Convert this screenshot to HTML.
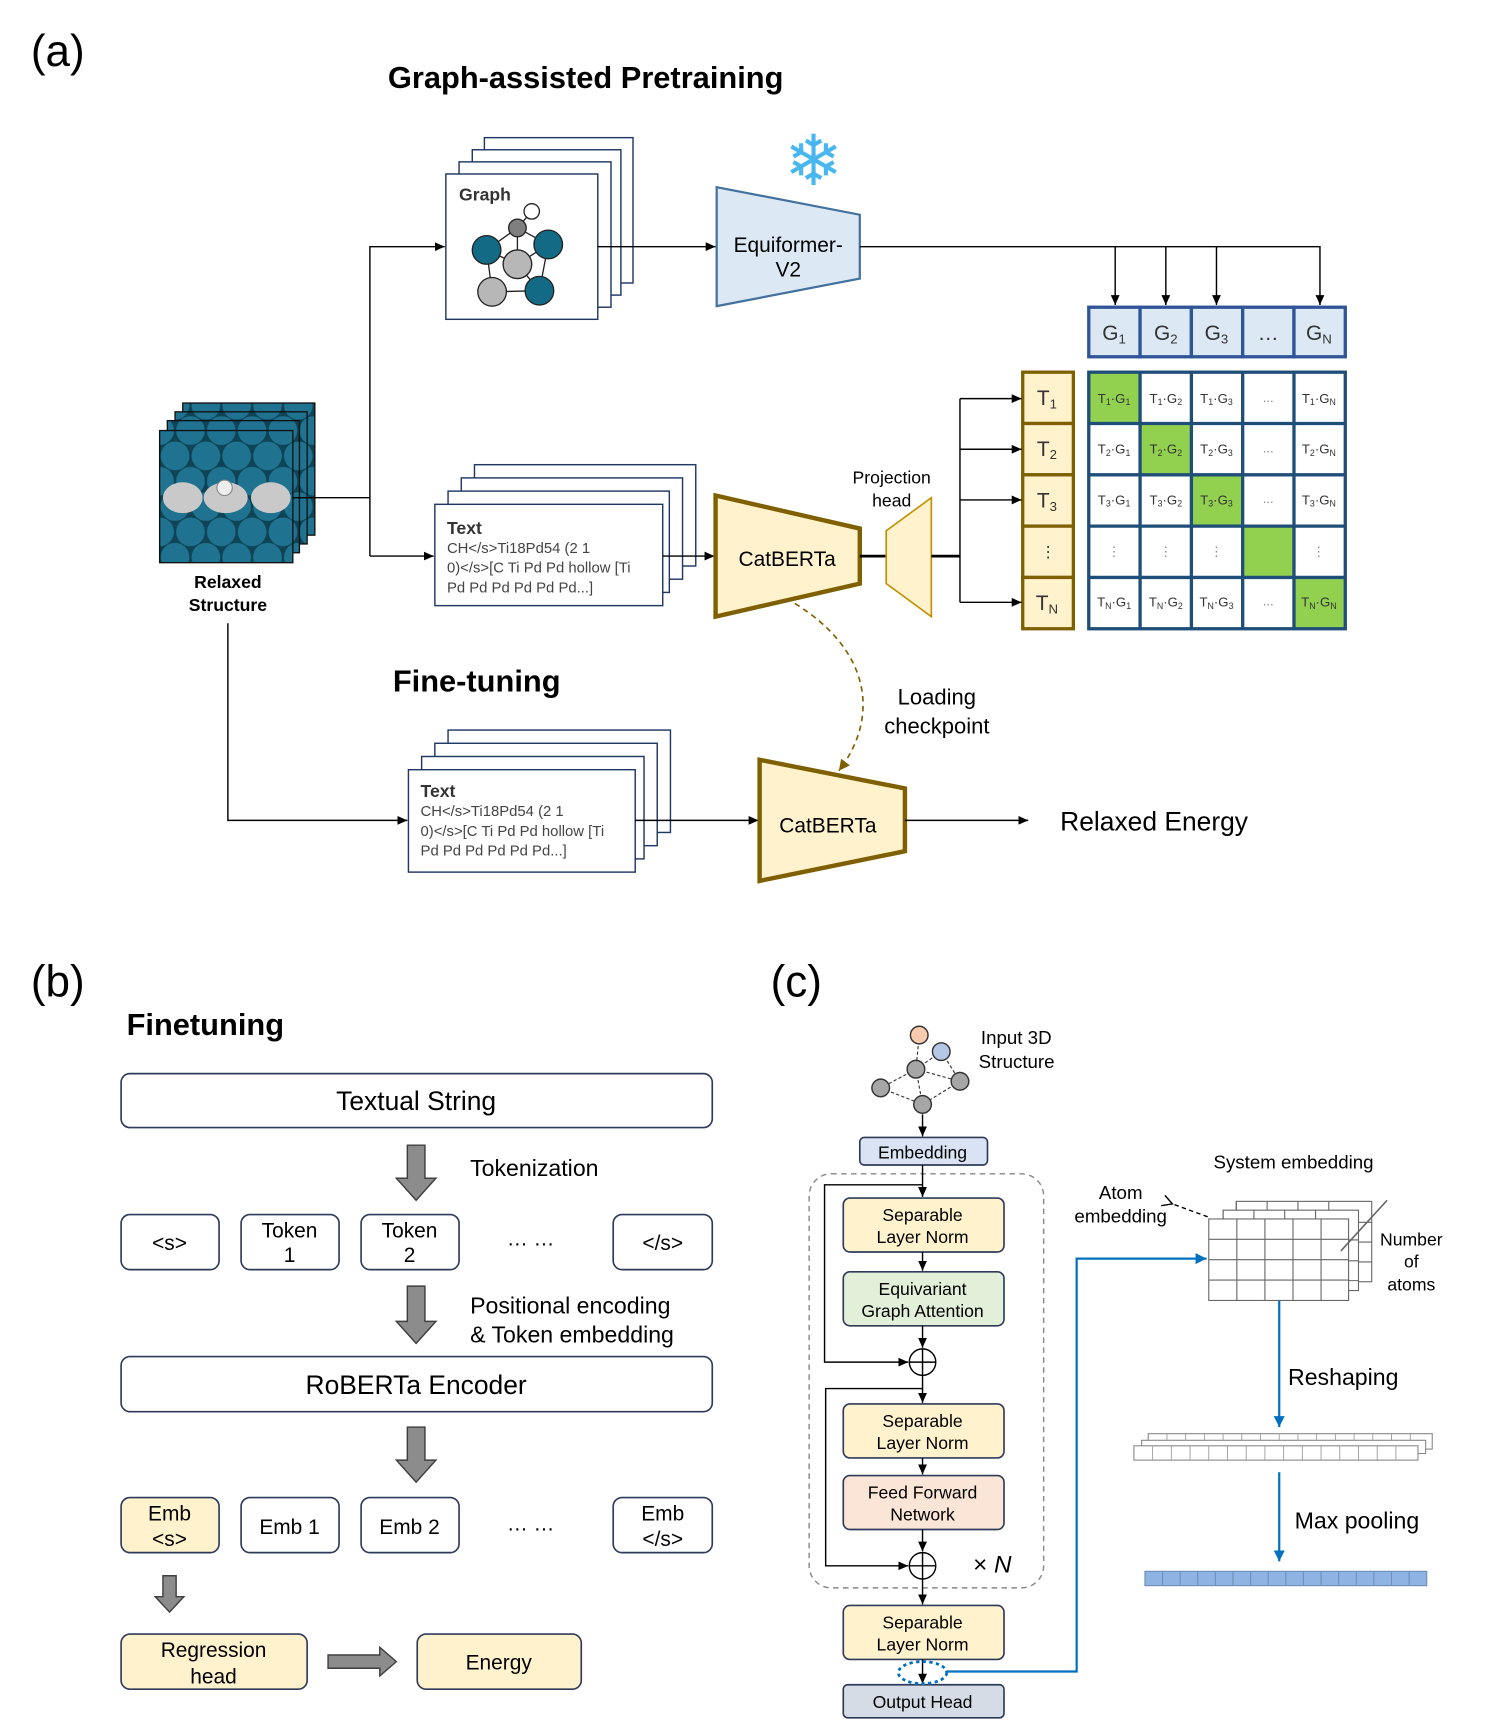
<!DOCTYPE html>
<html><head><meta charset="utf-8"><style>
html,body{margin:0;padding:0;background:#fff}
svg{display:block}
text{font-family:"Liberation Sans",Arial,sans-serif}
</style></head><body>
<svg width="1495" height="1731" viewBox="0 0 1358 1572" preserveAspectRatio="none" xmlns="http://www.w3.org/2000/svg">
<defs>
<marker id="ah" markerWidth="10" markerHeight="10" refX="9" refY="5" orient="auto" markerUnits="userSpaceOnUse"><path d="M0,1 L9,5 L0,9 z" fill="#000"/></marker>
<marker id="ahb" markerWidth="12" markerHeight="12" refX="10" refY="6" orient="auto" markerUnits="userSpaceOnUse"><path d="M0,1 L10,6 L0,11 z" fill="#0070c0"/></marker>
<marker id="ahg" markerWidth="12" markerHeight="12" refX="10" refY="6" orient="auto" markerUnits="userSpaceOnUse"><path d="M0,1 L10,6 L0,11 z" fill="#7f6000"/></marker>
<marker id="aho" markerWidth="12" markerHeight="12" refX="2" refY="6" orient="auto" markerUnits="userSpaceOnUse"><path d="M10,1 L1,6 L10,11" fill="none" stroke="#000" stroke-width="1.3"/></marker>
<pattern id="slab" x="145" y="391" width="28" height="46" patternUnits="userSpaceOnUse">
<rect width="28" height="46" fill="#0e4456"/>
<circle cx="0" cy="0" r="13" fill="#1f7390"/>
<circle cx="28" cy="0" r="13" fill="#1f7390"/>
<circle cx="14" cy="23" r="13" fill="#1f7390"/>
<circle cx="0" cy="46" r="13" fill="#1f7390"/>
<circle cx="28" cy="46" r="13" fill="#1f7390"/>
</pattern>
</defs>

<text x="28" y="60" font-size="40">(a)</text>
<text x="532" y="80" font-size="28" font-weight="bold" text-anchor="middle">Graph-assisted Pretraining</text>

<g stroke="#111" stroke-width="1.2">
<rect x="166" y="366" width="120" height="120" fill="url(#slab)"/>
<rect x="159" y="374" width="120" height="120" fill="url(#slab)"/>
<rect x="152" y="382" width="120" height="120" fill="url(#slab)"/>
<rect x="145" y="391" width="121" height="120" fill="url(#slab)"/>
</g>
<ellipse cx="166" cy="452" rx="18" ry="14" fill="#c9c9c9"/>
<ellipse cx="205" cy="452" rx="20" ry="14" fill="#c9c9c9"/>
<ellipse cx="246" cy="452" rx="18" ry="14" fill="#c9c9c9"/>
<circle cx="204" cy="443" r="7" fill="#eee" stroke="#888"/>
<text x="207" y="534" font-size="16" font-weight="bold" text-anchor="middle">Relaxed</text>
<text x="207" y="555" font-size="16" font-weight="bold" text-anchor="middle">Structure</text>

<g stroke="#000" stroke-width="1.3" fill="none">
<path d="M266,452 H336"/>
<path d="M336,505 V224 H404" marker-end="url(#ah)"/>
<path d="M336,505 H394" marker-end="url(#ah)"/>
<path d="M207,566 V745 H370" marker-end="url(#ah)"/>
</g>

<g fill="#fff" stroke="#1f3864" stroke-width="1.3">
<rect x="440" y="125" width="135" height="132"/>
<rect x="429" y="136" width="135" height="132"/>
<rect x="417" y="147" width="138" height="132"/>
<rect x="405" y="158" width="138" height="132"/>
</g>
<text x="417" y="182" font-size="16" font-weight="bold" fill="#333">Graph</text>
<g stroke="#222" stroke-width="1.2">
<line x1="483" y1="192" x2="470" y2="207"/><line x1="470" y1="207" x2="442" y2="227"/><line x1="470" y1="207" x2="498" y2="222"/>
<line x1="470" y1="207" x2="470" y2="240"/><line x1="442" y1="227" x2="470" y2="240"/><line x1="498" y1="222" x2="470" y2="240"/>
<line x1="442" y1="227" x2="447" y2="265"/><line x1="498" y1="222" x2="490" y2="264"/><line x1="470" y1="240" x2="490" y2="264"/><line x1="447" y1="265" x2="490" y2="264"/>
<circle cx="483" cy="192" r="7" fill="#fff"/>
<circle cx="470" cy="207" r="8" fill="#7f7f7f"/>
<circle cx="442" cy="227" r="13" fill="#136a85"/>
<circle cx="498" cy="222" r="13" fill="#136a85"/>
<circle cx="470" cy="240" r="13" fill="#b7b7b7"/>
<circle cx="447" cy="265" r="13" fill="#b7b7b7"/>
<circle cx="490" cy="264" r="13" fill="#136a85"/>
</g>
<line x1="543" y1="224" x2="650" y2="224" stroke="#000" stroke-width="1.3" marker-end="url(#ah)"/>

<polygon points="651,170 781,195 781,253 651,278" fill="#dce9f5" stroke="#41719c" stroke-width="2"/>
<text x="716" y="229" font-size="19" text-anchor="middle">Equiformer-</text>
<text x="716" y="251" font-size="19" text-anchor="middle">V2</text>
<text x="739" y="168" font-size="64" text-anchor="middle" fill="#49b7ef" font-family="DejaVu Sans">❄</text>

<g stroke="#000" stroke-width="1.3" fill="none">
<path d="M781,224 H1199 V277" marker-end="url(#ah)"/>
<path d="M1013,224 V277" marker-end="url(#ah)"/>
<path d="M1059,224 V277" marker-end="url(#ah)"/>
<path d="M1105,224 V277" marker-end="url(#ah)"/>
</g>

<g stroke="#2f5597" stroke-width="3" fill="#dce9f5">
<rect x="989" y="279" width="46.6" height="45"/><rect x="1035.6" y="279" width="46.6" height="45"/><rect x="1082.2" y="279" width="46.6" height="45"/><rect x="1128.8" y="279" width="46.6" height="45"/><rect x="1175.4" y="279" width="46.6" height="45"/>
</g>
<g font-size="19" text-anchor="middle" fill="#333">
<text x="1012" y="309">G<tspan font-size="12" dy="3">1</tspan></text>
<text x="1059" y="309">G<tspan font-size="12" dy="3">2</tspan></text>
<text x="1105" y="309">G<tspan font-size="12" dy="3">3</tspan></text>
<text x="1152" y="309">…</text>
<text x="1198" y="309">G<tspan font-size="12" dy="3">N</tspan></text>
</g>

<g stroke="#7f6000" stroke-width="3" fill="#fff2cc">
<rect x="929" y="338" width="46" height="46.6"/><rect x="929" y="384.6" width="46" height="46.6"/><rect x="929" y="431.2" width="46" height="46.6"/><rect x="929" y="477.8" width="46" height="46.6"/><rect x="929" y="524.4" width="46" height="46.6"/>
</g>
<g font-size="19" text-anchor="middle" fill="#333">
<text x="951" y="368">T<tspan font-size="12" dy="3">1</tspan></text>
<text x="951" y="414">T<tspan font-size="12" dy="3">2</tspan></text>
<text x="951" y="461">T<tspan font-size="12" dy="3">3</tspan></text>
<text x="952" y="506" font-size="14">⋮</text>
<text x="951" y="554">T<tspan font-size="12" dy="3">N</tspan></text>
</g>

<rect x="989" y="338" width="233" height="233" fill="#fff"/>
<g fill="#92d050">
<rect x="989" y="338" width="46.6" height="46.6"/><rect x="1035.6" y="384.6" width="46.6" height="46.6"/><rect x="1082.2" y="431.2" width="46.6" height="46.6"/><rect x="1128.8" y="477.8" width="46.6" height="46.6"/><rect x="1175.4" y="524.4" width="46.6" height="46.6"/>
</g>
<g stroke="#1f4e79" stroke-width="3" fill="none">
<rect x="989" y="338" width="233" height="233"/>
<line x1="1035.6" y1="338" x2="1035.6" y2="571"/><line x1="1082.2" y1="338" x2="1082.2" y2="571"/><line x1="1128.8" y1="338" x2="1128.8" y2="571"/><line x1="1175.4" y1="338" x2="1175.4" y2="571"/>
<line x1="989" y1="384.6" x2="1222" y2="384.6"/><line x1="989" y1="431.2" x2="1222" y2="431.2"/><line x1="989" y1="477.8" x2="1222" y2="477.8"/><line x1="989" y1="524.4" x2="1222" y2="524.4"/>
</g>
<g font-size="12" text-anchor="middle" fill="#333">
<text x="1012" y="366">T<tspan font-size="8" dy="2">1</tspan><tspan dy="-2">·G</tspan><tspan font-size="8" dy="2">1</tspan></text>
<text x="1059" y="366">T<tspan font-size="8" dy="2">1</tspan><tspan dy="-2">·G</tspan><tspan font-size="8" dy="2">2</tspan></text>
<text x="1105" y="366">T<tspan font-size="8" dy="2">1</tspan><tspan dy="-2">·G</tspan><tspan font-size="8" dy="2">3</tspan></text>
<text x="1152" y="365" fill="#888">...</text>
<text x="1198" y="366">T<tspan font-size="8" dy="2">1</tspan><tspan dy="-2">·G</tspan><tspan font-size="8" dy="2">N</tspan></text>
<text x="1012" y="412">T<tspan font-size="8" dy="2">2</tspan><tspan dy="-2">·G</tspan><tspan font-size="8" dy="2">1</tspan></text>
<text x="1059" y="412">T<tspan font-size="8" dy="2">2</tspan><tspan dy="-2">·G</tspan><tspan font-size="8" dy="2">2</tspan></text>
<text x="1105" y="412">T<tspan font-size="8" dy="2">2</tspan><tspan dy="-2">·G</tspan><tspan font-size="8" dy="2">3</tspan></text>
<text x="1152" y="411" fill="#888">...</text>
<text x="1198" y="412">T<tspan font-size="8" dy="2">2</tspan><tspan dy="-2">·G</tspan><tspan font-size="8" dy="2">N</tspan></text>
<text x="1012" y="458">T<tspan font-size="8" dy="2">3</tspan><tspan dy="-2">·G</tspan><tspan font-size="8" dy="2">1</tspan></text>
<text x="1059" y="458">T<tspan font-size="8" dy="2">3</tspan><tspan dy="-2">·G</tspan><tspan font-size="8" dy="2">2</tspan></text>
<text x="1105" y="458">T<tspan font-size="8" dy="2">3</tspan><tspan dy="-2">·G</tspan><tspan font-size="8" dy="2">3</tspan></text>
<text x="1152" y="457" fill="#888">...</text>
<text x="1198" y="458">T<tspan font-size="8" dy="2">3</tspan><tspan dy="-2">·G</tspan><tspan font-size="8" dy="2">N</tspan></text>
<text x="1012" y="505" fill="#888">⋮</text><text x="1059" y="505" fill="#888">⋮</text><text x="1105" y="505" fill="#888">⋮</text><text x="1198" y="505" fill="#888">⋮</text>
<text x="1012" y="551">T<tspan font-size="8" dy="2">N</tspan><tspan dy="-2">·G</tspan><tspan font-size="8" dy="2">1</tspan></text>
<text x="1059" y="551">T<tspan font-size="8" dy="2">N</tspan><tspan dy="-2">·G</tspan><tspan font-size="8" dy="2">2</tspan></text>
<text x="1105" y="551">T<tspan font-size="8" dy="2">N</tspan><tspan dy="-2">·G</tspan><tspan font-size="8" dy="2">3</tspan></text>
<text x="1152" y="550" fill="#888">...</text>
<text x="1198" y="551">T<tspan font-size="8" dy="2">N</tspan><tspan dy="-2">·G</tspan><tspan font-size="8" dy="2">N</tspan></text>
</g>

<g fill="#fff" stroke="#1f3864" stroke-width="1.3">
<rect x="431" y="422" width="201" height="92"/>
<rect x="419" y="434" width="201" height="92"/>
<rect x="407" y="446" width="201" height="92"/>
<rect x="395" y="458" width="207" height="92"/>
</g>
<text x="406" y="485" font-size="16" font-weight="bold" fill="#333">Text</text>
<g font-size="13.5" fill="#444">
<text x="406" y="502">CH&lt;/s&gt;Ti18Pd54 (2 1</text>
<text x="406" y="520">0)&lt;/s&gt;[C Ti Pd Pd hollow [Ti</text>
<text x="406" y="538">Pd Pd Pd Pd Pd Pd...]</text>
</g>
<line x1="602" y1="505" x2="649" y2="505" stroke="#000" stroke-width="1.3" marker-end="url(#ah)"/>

<polygon points="650,450 781,480 781,530 650,560" fill="#fff2cc" stroke="#7f6000" stroke-width="4"/>
<text x="715" y="514" font-size="19" text-anchor="middle">CatBERTa</text>
<line x1="781" y1="505" x2="805" y2="505" stroke="#000" stroke-width="2.5"/>
<polygon points="805,482 846,452 846,560 805,530" fill="#fff2cc" stroke="#bf9000" stroke-width="1.5"/>
<text x="810" y="439" font-size="16" text-anchor="middle">Projection</text>
<text x="810" y="460" font-size="16" text-anchor="middle">head</text>
<g stroke="#000" stroke-width="1.3" fill="none">
<line x1="846" y1="505" x2="872" y2="505" stroke-width="2.5"/>
<path d="M872,362 V547"/>
<path d="M872,362 H928" marker-end="url(#ah)"/>
<path d="M872,408 H928" marker-end="url(#ah)"/>
<path d="M872,454 H928" marker-end="url(#ah)"/>
<path d="M872,547 H928" marker-end="url(#ah)"/>
</g>

<path d="M722,548 C790,590 800,650 762,700" fill="none" stroke="#7f6000" stroke-width="1.5" stroke-dasharray="5,4" marker-end="url(#ahg)"/>
<text x="851" y="640" font-size="20" text-anchor="middle">Loading</text>
<text x="851" y="666" font-size="20" text-anchor="middle">checkpoint</text>

<text x="433" y="628" font-size="28" font-weight="bold" text-anchor="middle">Fine-tuning</text>

<g fill="#fff" stroke="#1f3864" stroke-width="1.3">
<rect x="407" y="663" width="202" height="93"/>
<rect x="395" y="675" width="202" height="93"/>
<rect x="383" y="687" width="202" height="93"/>
<rect x="371" y="699" width="206" height="93"/>
</g>
<text x="382" y="724" font-size="16" font-weight="bold" fill="#333">Text</text>
<g font-size="13.5" fill="#444">
<text x="382" y="741">CH&lt;/s&gt;Ti18Pd54 (2 1</text>
<text x="382" y="759">0)&lt;/s&gt;[C Ti Pd Pd hollow [Ti</text>
<text x="382" y="777">Pd Pd Pd Pd Pd Pd...]</text>
</g>
<line x1="577" y1="745" x2="689" y2="745" stroke="#000" stroke-width="1.3" marker-end="url(#ah)"/>
<polygon points="690,690 822,716 822,773 690,800" fill="#fff2cc" stroke="#7f6000" stroke-width="4"/>
<text x="752" y="756" font-size="19" text-anchor="middle">CatBERTa</text>
<line x1="822" y1="745" x2="934" y2="745" stroke="#000" stroke-width="1.3" marker-end="url(#ah)"/>
<text x="963" y="754" font-size="24">Relaxed Energy</text>

<text x="28" y="905" font-size="40">(b)</text>
<text x="115" y="940" font-size="28" font-weight="bold">Finetuning</text>
<g stroke="#2f3b5a" stroke-width="1.5" fill="#fff">
<rect x="110" y="975" width="537" height="49" rx="8"/>
<rect x="110" y="1103" width="89" height="50" rx="8"/>
<rect x="219" y="1103" width="89" height="50" rx="8"/>
<rect x="328" y="1103" width="89" height="50" rx="8"/>
<rect x="557" y="1103" width="90" height="50" rx="8"/>
<rect x="110" y="1232" width="537" height="50" rx="8"/>
<rect x="110" y="1360" width="89" height="50" rx="8" fill="#fff2cc"/>
<rect x="219" y="1360" width="89" height="50" rx="8"/>
<rect x="328" y="1360" width="89" height="50" rx="8"/>
<rect x="557" y="1360" width="90" height="50" rx="8"/>
<rect x="110" y="1484" width="169" height="50" rx="8" fill="#fff2cc"/>
<rect x="379" y="1484" width="149" height="50" rx="8" fill="#fff2cc"/>
</g>
<text x="378" y="1008" font-size="24" text-anchor="middle">Textual String</text>
<text x="378" y="1266" font-size="24" text-anchor="middle">RoBERTa Encoder</text>
<g font-size="19" text-anchor="middle">
<text x="154" y="1135">&lt;s&gt;</text>
<text x="263" y="1124">Token</text><text x="263" y="1146">1</text>
<text x="372" y="1124">Token</text><text x="372" y="1146">2</text>
<text x="482" y="1131">… …</text>
<text x="602" y="1135">&lt;/s&gt;</text>
<text x="154" y="1381">Emb</text><text x="154" y="1404">&lt;s&gt;</text>
<text x="263" y="1393">Emb 1</text>
<text x="372" y="1393">Emb 2</text>
<text x="482" y="1390">… …</text>
<text x="602" y="1381">Emb</text><text x="602" y="1404">&lt;/s&gt;</text>
<text x="194" y="1505">Regression</text><text x="194" y="1529">head</text>
<text x="453" y="1516">Energy</text>
</g>
<g fill="#8c8c8c" stroke="#404040" stroke-width="1.3">
<polygon points="370,1040 386,1040 386,1070 396,1070 378,1090 360,1070 370,1070"/>
<polygon points="370,1168 386,1168 386,1200 396,1200 378,1220 360,1200 370,1200"/>
<polygon points="370,1296 386,1296 386,1326 396,1326 378,1346 360,1326 370,1326"/>
<polygon points="148,1431 160,1431 160,1450 167,1450 154,1464 141,1450 148,1450"/>
<polygon points="298,1503 345,1503 345,1496 360,1509 345,1522 345,1515 298,1515"/>
</g>
<text x="427" y="1068" font-size="21">Tokenization</text>
<text x="427" y="1193" font-size="21">Positional encoding</text>
<text x="427" y="1219" font-size="21">&amp; Token embedding</text>

<text x="700" y="905" font-size="40">(c)</text>
<g stroke="#333" stroke-width="1" stroke-dasharray="3,2" fill="none">
<line x1="835" y1="940" x2="832" y2="971"/><line x1="855" y1="955" x2="832" y2="971"/><line x1="832" y1="971" x2="800" y2="988"/><line x1="832" y1="971" x2="872" y2="982"/><line x1="800" y1="988" x2="838" y2="1003"/><line x1="872" y1="982" x2="838" y2="1003"/><line x1="832" y1="971" x2="838" y2="1003"/><line x1="855" y1="955" x2="872" y2="982"/>
</g>
<g stroke="#333" stroke-width="1.3">
<circle cx="835" cy="940" r="8" fill="#f8cbad"/>
<circle cx="855" cy="955" r="8" fill="#b4c7e7"/>
<circle cx="832" cy="971" r="8" fill="#a6a6a6"/>
<circle cx="800" cy="988" r="8" fill="#a6a6a6"/>
<circle cx="872" cy="982" r="8" fill="#a6a6a6"/>
<circle cx="838" cy="1003" r="8" fill="#a6a6a6"/>
</g>
<text x="891" y="948" font-size="17">Input 3D</text>
<text x="889" y="970" font-size="17">Structure</text>

<rect x="735" y="1066" width="213" height="376" rx="20" fill="none" stroke="#888" stroke-width="1.3" stroke-dasharray="5,4"/>
<g stroke="#2f3b5a" stroke-width="1.5">
<rect x="781" y="1033" width="116" height="25" rx="4" fill="#dae3f3"/>
<rect x="766" y="1088" width="146" height="49" rx="6" fill="#fff2cc"/>
<rect x="766" y="1155" width="146" height="49" rx="6" fill="#e2f0d9"/>
<rect x="766" y="1275" width="146" height="49" rx="6" fill="#fff2cc"/>
<rect x="766" y="1340" width="146" height="49" rx="6" fill="#fbe5d6"/>
<rect x="766" y="1458" width="146" height="49" rx="6" fill="#fff2cc"/>
<rect x="766" y="1530" width="146" height="30" rx="4" fill="#d6dce5"/>
</g>
<g font-size="16" text-anchor="middle">
<text x="838" y="1052">Embedding</text>
<text x="838" y="1109">Separable</text><text x="838" y="1129">Layer Norm</text>
<text x="838" y="1176">Equivariant</text><text x="838" y="1196">Graph Attention</text>
<text x="838" y="1296">Separable</text><text x="838" y="1316">Layer Norm</text>
<text x="838" y="1361">Feed Forward</text><text x="838" y="1381">Network</text>
<text x="838" y="1479">Separable</text><text x="838" y="1499">Layer Norm</text>
<text x="838" y="1551">Output Head</text>
</g>
<g stroke="#000" stroke-width="1.3" fill="none">
<path d="M838,1012 V1032" marker-end="url(#ah)"/>
<path d="M838,1058 V1087" marker-end="url(#ah)"/>
<path d="M838,1137 V1154" marker-end="url(#ah)"/>
<path d="M838,1204 V1224" marker-end="url(#ah)"/>
<path d="M838,1076 H749 V1237 H825" marker-end="url(#ah)"/>
<circle cx="838" cy="1237" r="12"/><path d="M826,1237 H850 M838,1225 V1249"/>
<path d="M838,1249 V1274" marker-end="url(#ah)"/>
<path d="M838,1261 H750 V1422 H825" marker-end="url(#ah)"/>
<path d="M838,1324 V1339" marker-end="url(#ah)"/>
<path d="M838,1389 V1409" marker-end="url(#ah)"/>
<circle cx="838" cy="1422" r="12"/><path d="M826,1422 H850 M838,1410 V1434"/>
<path d="M838,1434 V1457" marker-end="url(#ah)"/>
<path d="M838,1507 V1529" marker-end="url(#ah)"/>
</g>
<text x="884" y="1428" font-size="22">× <tspan font-style="italic">N</tspan></text>
<ellipse cx="838" cy="1519" rx="22" ry="10" fill="none" stroke="#0070c0" stroke-width="2.5" stroke-dasharray="3,3"/>
<path d="M860,1518 H978 V1143 H1096" fill="none" stroke="#0070c0" stroke-width="2" marker-end="url(#ahb)"/>

<text x="1175" y="1061" font-size="17" text-anchor="middle">System embedding</text>
<text x="1018" y="1089" font-size="17" text-anchor="middle">Atom</text>
<text x="1018" y="1110" font-size="17" text-anchor="middle">embedding</text>
<path d="M1097,1105 L1064,1093" stroke="#000" stroke-width="1.3" stroke-dasharray="4,3" fill="none" marker-end="url(#aho)"/>
<g stroke="#666" stroke-width="1" fill="#fff">
<rect x="1123" y="1091" width="123" height="73"/>
<rect x="1111" y="1099" width="123" height="73"/>
<rect x="1098" y="1107" width="127" height="74"/>
</g>
<g stroke="#666" stroke-width="1">
<path d="M1123,1099 V1091 M1151,1099 V1091 M1179,1099 V1091 M1207,1099 V1091 M1111,1107 V1099 M1139,1107 V1099 M1167,1107 V1099 M1195,1107 V1099 M1225,1126 H1234 M1225,1145 H1234 M1225,1163 H1234 M1234,1110 H1246 M1234,1128 H1246 M1234,1146 H1246"/>
<path d="M1123.5,1107 V1181 M1149,1107 V1181 M1174.5,1107 V1181 M1200,1107 V1181 M1098,1125.5 H1225 M1098,1144 H1225 M1098,1162.5 H1225"/>
</g>
<line x1="1260" y1="1090" x2="1218" y2="1136" stroke="#666" stroke-width="1.5"/>
<g font-size="16" text-anchor="middle">
<text x="1282" y="1131">Number</text><text x="1282" y="1151">of</text><text x="1282" y="1172">atoms</text>
</g>
<path d="M1162,1181 V1296" stroke="#0070c0" stroke-width="2" fill="none" marker-end="url(#ahb)"/>
<text x="1170" y="1258" font-size="21">Reshaping</text>
<g stroke="#888" stroke-width="1" fill="#fff">
<rect x="1043" y="1302" width="258" height="14"/>
<rect x="1037" y="1308" width="258" height="12"/>
<rect x="1030" y="1313" width="258" height="13"/>
</g>
<g stroke="#999" stroke-width="0.8">
<path d="M1047,1313 V1326 M1064,1313 V1326 M1081,1313 V1326 M1098,1313 V1326 M1115,1313 V1326 M1132,1313 V1326 M1149,1313 V1326 M1166,1313 V1326 M1183,1313 V1326 M1200,1313 V1326 M1217,1313 V1326 M1234,1313 V1326 M1251,1313 V1326 M1268,1313 V1326"/>
<path d="M1060,1302 V1308 M1077,1302 V1308 M1094,1302 V1308 M1111,1302 V1308 M1128,1302 V1308 M1145,1302 V1308 M1162,1302 V1308 M1179,1302 V1308 M1196,1302 V1308 M1213,1302 V1308 M1230,1302 V1308 M1247,1302 V1308 M1264,1302 V1308 M1281,1302 V1308"/>
</g>
<path d="M1162,1337 V1418" stroke="#0070c0" stroke-width="2" fill="none" marker-end="url(#ahb)"/>
<text x="1176" y="1388" font-size="21">Max pooling</text>
<rect x="1040" y="1427" width="256" height="13" fill="#8eb4e3" stroke="#6f8fb8" stroke-width="1"/>
<g stroke="#6f8fb8" stroke-width="1">
<path d="M1056,1427 V1440 M1072,1427 V1440 M1088,1427 V1440 M1104,1427 V1440 M1120,1427 V1440 M1136,1427 V1440 M1152,1427 V1440 M1168,1427 V1440 M1184,1427 V1440 M1200,1427 V1440 M1216,1427 V1440 M1232,1427 V1440 M1248,1427 V1440 M1264,1427 V1440 M1280,1427 V1440"/>
</g>
</svg>
</body></html>
